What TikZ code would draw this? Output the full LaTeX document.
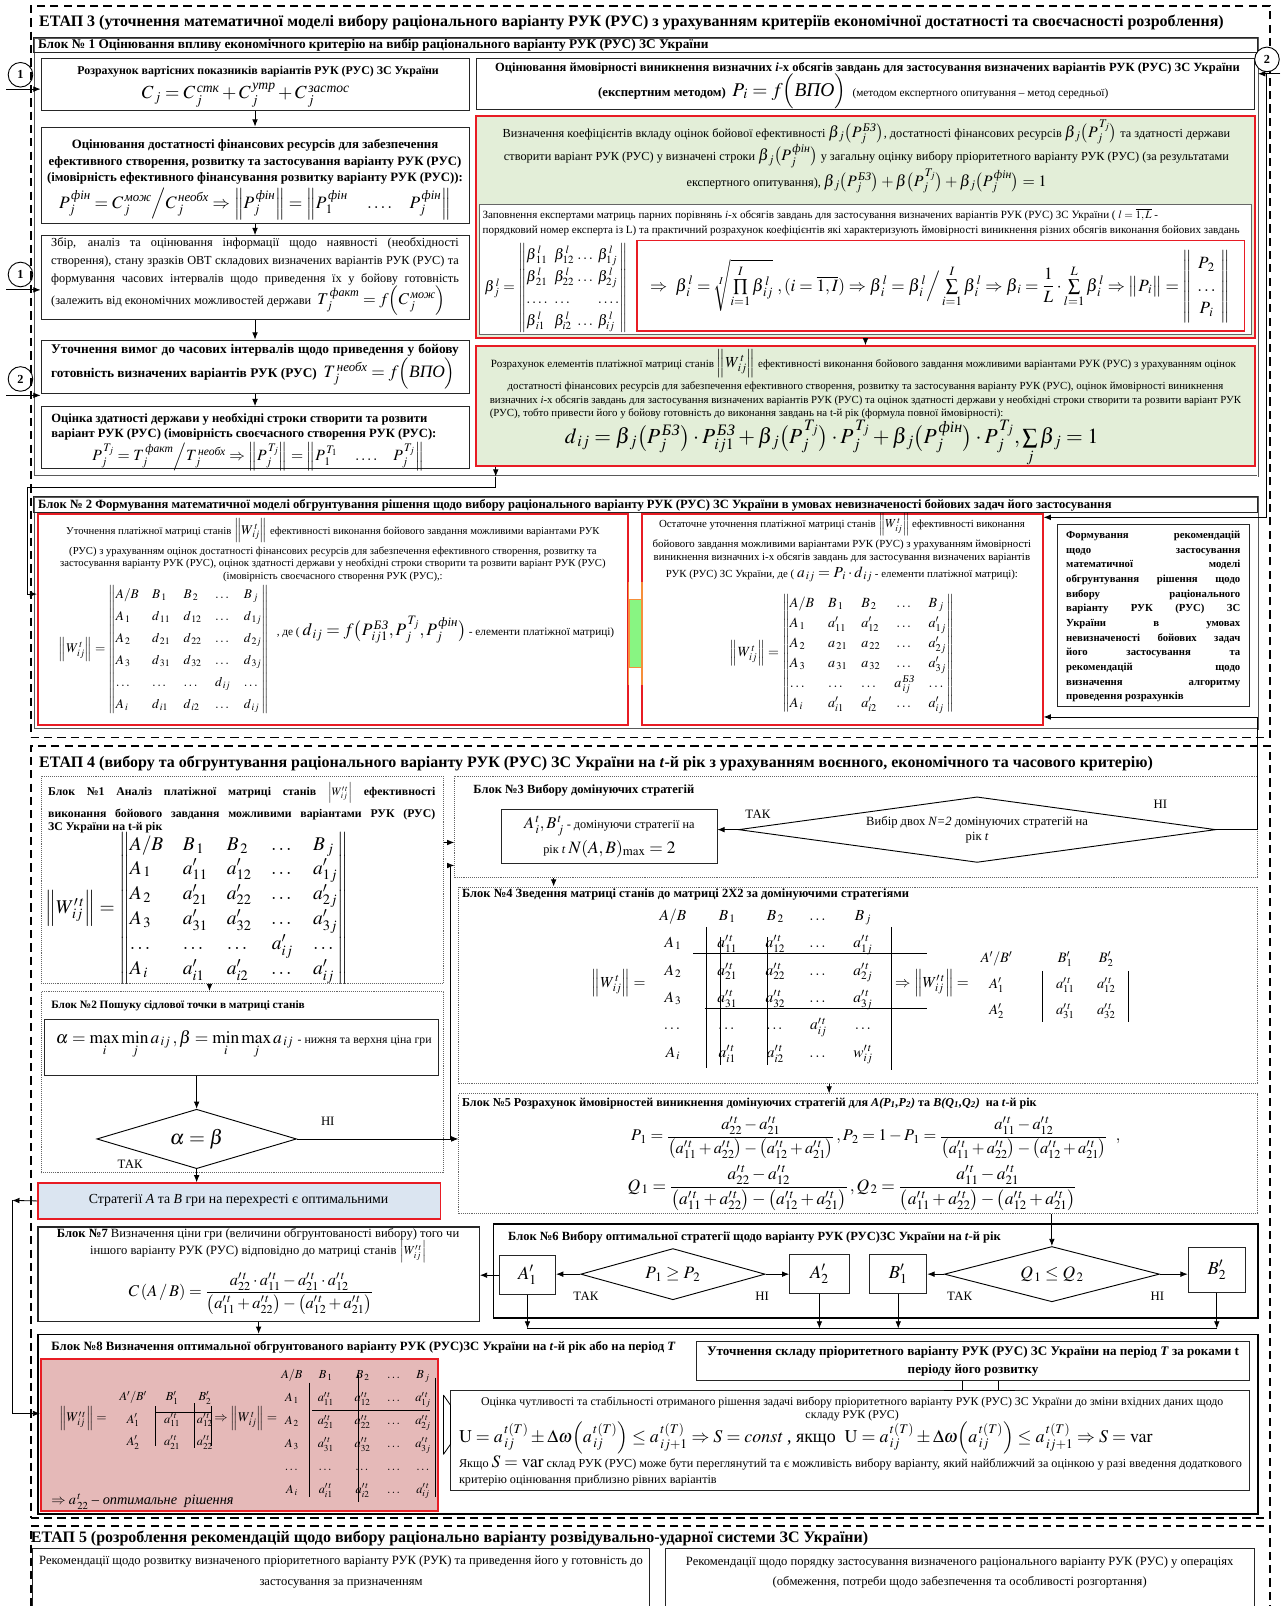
\documentclass[tikz,border=0pt]{standalone}
\usepackage{amsmath}
\usepackage{mathptmx}
\usepackage[no-math]{fontspec}
\setmainfont{Liberation Serif}
\usepackage{xcolor}
\usetikzlibrary{shapes.geometric, arrows.meta, positioning, fit}

\definecolor{grnfill}{RGB}{227,238,216}
\definecolor{redline}{RGB}{232,28,36}
\definecolor{blufill}{RGB}{219,229,241}
\definecolor{pnkfill}{RGB}{229,185,184}
\definecolor{orgline}{RGB}{246,142,58}

\newcommand{\fs}[2]{\fontsize{#1}{#2}\selectfont}
\newcommand{\jl}[2]{\makebox[#1][s]{#2}}
\newcommand{\cw}[2]{\hbox to #1{\hss$#2$\hss}}

\begin{document}
\begin{tikzpicture}[x=1pt, y=-1pt,
  stage/.style={draw, line width=1.8pt, dash pattern=on 8pt off 5pt, inner sep=0pt},
  frm/.style={draw=black!65, double, double distance=1.1pt, line width=0.6pt, inner sep=0pt},
  box/.style={draw=black!85, line width=0.9pt, inner sep=0pt},
  thk/.style={draw, line width=1.5pt, inner sep=0pt},
  redbox/.style={draw=redline, line width=1.8pt, inner sep=0pt},
  dotbox/.style={draw=black!60, densely dotted, line width=0.9pt, inner sep=0pt},
  ttl/.style={anchor=west, inner sep=0pt, font=\fs{15.6}{19}\bfseries},
  hdr/.style={anchor=west, inner sep=0pt, font=\fs{12.2}{14}\bfseries},
  txt/.style={inner sep=0pt, align=center},
  lbl/.style={inner sep=0pt, font=\fs{12.5}{14}},
  arr/.style={-{Latex[length=7pt, width=5.5pt]}, line width=0.8pt},
  circ/.style={circle, draw, line width=0.9pt, minimum size=24pt, inner sep=0pt, font=\fs{12}{14}\bfseries},
  dia/.style={diamond, draw, line width=0.9pt, inner sep=0pt, align=center}
]
\useasboundingbox (0,0) rectangle (1250,1568);
\fill[white] (0,0) rectangle (1250,1568);
\clip (0,0) rectangle (1250,1568);

% ETAP 3
\node[stage, fit={(30,6) (1240,720)}] (et3) {};
\node[ttl] (et3t) at (38,22) {ЕТАП 3 (уточнення математичної моделі вибору раціонального варіанту РУК (РУС) з урахуванням критеріїв економічної достатності та своєчасності розроблення)};

\node[frm, fit={(33,37) (1228,465)}] (b1) {};
\node[box, fit={(33,37) (1228,51)}] (b1h) {};
\node[hdr, font=\fs{13}{14}\bfseries] (b1ht) at (37,44) {Блок № 1 Оцінювання впливу економічного критерію на вибір раціонального варіанту РУК (РУС) ЗС України};

\node[box, fit={(40,57) (458,108)}] (cost) {};
\node[txt, font=\fs{11.6}{13}\bfseries] (costt) at (252,70) {Розрахунок вартісних показників варіантів РУК (РУС) ЗС України};
\node[txt, font=\fs{18}{20}] (costf) at (240,93) {$C_{\,j}=C_{\,j}^{\,\textit{стк}}+C_{\,j}^{\,\textit{утр}}+C_{\,j}^{\,\textit{застос}}$};

\node[box, fit={(40,124) (458,218)}] (fin) {};
\node[txt, font=\fs{12.5}{16.5}\bfseries] (fint) at (249,158) {Оцінювання достатності фінансових ресурсів для забезпечення\\ефективного створення, розвитку та застосування варіанту РУК (РУС)\\(імовірність ефективного фінансування розвитку варіанту РУК (РУС)):};
\node[txt, font=\fs{17}{20}] (finf) at (249,199) {$P_{\,j}^{\,\textit{фін}}=C_{\,j}^{\,\textit{мож}}\Big/C_{\,j}^{\,\textit{необх}}\Rightarrow\Big\|P_{\,j}^{\,\textit{фін}}\Big\|=\Big\|P_{\,1}^{\,\textit{фін}}\quad\dots.\quad P_{\,j}^{\,\textit{фін}}\Big\|$};

\node[box, fit={(40,230) (458,312)}] (obt) {};
\node[txt, align=left, font=\fs{12}{17.5}] (obtt) at (249,270) {\jl{398pt}{Збір, аналіз та оцінювання інформації щодо наявності (необхідності}\\\jl{398pt}{створення), стану зразків ОВТ складових визначених варіантів РУК (РУС) та}\\\jl{398pt}{формування часових інтервалів щодо приведення їх у бойову готовність}\\(залежить від економічних можливостей держави\ \ {\fs{16}{17}$T_{\,j}^{\,\textit{факт}}=f\Big(C_{\,j}^{\,\textit{мож}}\Big)$}};

\node[box, fit={(40,332) (458,384)}] (trq) {};
\node[txt, align=left, font=\fs{13}{20}\bfseries] (trqt) at (249,358) {\jl{398pt}{Уточнення вимог до часових інтервалів щодо приведення у бойову}\\готовність визначених варіантів РУК (РУС)\ \ {\fs{17}{18}\mdseries$T_{\,j}^{\,\textit{необх}}=f\Big(\textit{ВПО}\Big)$}};

\node[box, fit={(40,397) (458,457)}] (cap) {};
\node[anchor=west, inner sep=0pt, align=left, font=\fs{12.3}{15}\bfseries] (capt) at (50,417) {Оцінка здатності держави у необхідні строки створити та розвити\\варіант РУК (РУС) (імовірність своєчасного створення РУК (РУС):};
\node[txt, font=\fs{15.3}{18}] (capf) at (252,446) {$P_{\,j}^{\,T_j}=T_{\,j}^{\,\textit{факт}}\Big/T_{\,j}^{\,\textit{необх}}\Rightarrow\Big\|P_{\,j}^{\,T_j}\Big\|=\Big\|P_{\,1}^{\,T_1}\quad\dots.\quad P_{\,j}^{\,T_j}\Big\|$};

\draw[arr] (cost) -- (fin);
\draw[arr] (fin) -- (obt);
\draw[arr] (obt) -- (trq);
\draw[arr] (trq) -- (cap);

\node[box, fit={(465,57) (1225,107)}] (prob) {};
\node[txt, font=\fs{12.2}{13}\bfseries] (probt) at (847,67) {Оцінювання ймовірності виникнення визначних \textit{i}-х обсягів завдань для застосування визначених варіантів РУК (РУС) ЗС України};
\node[txt, font=\fs{12.5}{13}] (probf) at (833,89) {\textbf{(експертним методом)}\ \ {\fs{19}{20}$P_{\,i}=f\Big(\textit{ВПО}\Big)$}\ \ {\fs{11}{12}(методом експертного опитування – метод середньої)}};

\node[redbox, fill=grnfill, fit={(465,113) (1225,330)}] (coef) {};
\node[txt, font=\fs{12}{23}] (coeft) at (846,153) {Визначення коефіцієнтів вкладу оцінок бойової ефективності {\fs{15.5}{16}$\beta_{\,j}\big(P_{\,j}^{\,\textit{БЗ}}\big)$}, достатності фінансових ресурсів {\fs{15.5}{16}$\beta_{\,j}\big(P_{\,j}^{\,T_j}\big)$} та здатності держави\\створити варіант РУК (РУС) у визначені строки {\fs{15.5}{16}$\beta_{\,j}\big(P_{\,j}^{\,\textit{фін}}\big)$} у загальну оцінку вибору пріоритетного варіанту РУК (РУС) (за результатами\\експертного опитування), {\fs{15.5}{16}$\beta_{\,j}\big(P_{\,j}^{\,\textit{БЗ}}\big)+\beta\big(P_{\,j}^{\,T_j}\big)+\beta_{\,j}\big(P_{\,j}^{\,\textit{фін}}\big)=1$}};

\node[box, draw=black!60, fill=white, fit={(468,200) (1222,327)}] (pair) {};
\node[anchor=west, inner sep=0pt, align=left, font=\fs{10.8}{15}] (pairt) at (471,217) {Заповнення експертами матриць парних порівнянь \textit{i}-х обсягів завдань для застосування визначених варіантів РУК (РУС) ЗС України ( $l=\overline{1,L}$ -\\порядковий номер експерта із L) та практичний розрахунок коефіцієнтів які характеризують ймовірності виникнення різних обсягів виконання бойових завдань};
\node[txt, font=\fs{14.5}{17}] (betm) at (543,281) {\renewcommand{\arraystretch}{1.25}$\beta_{\,j}^{\,l}=\left\|\begin{array}{@{}l@{\;\;}l@{\;}c@{\;}l@{}}\beta_{\,11}^{\,l}&\beta_{12}^{\,l}&\dots&\beta_{1j}^{\,l}\\\beta_{\,21}^{\,l}&\beta_{22}^{\,l}&\dots&\beta_{2j}^{\,l}\\\dots.&\dots&&\dots.\\\beta_{\,i1}^{\,l}&\beta_{i2}^{\,l}&\dots&\beta_{ij}^{\,l}\end{array}\right\|$};
\node[redbox, line width=1.4pt, fit={(622,235) (1215,323)}] (geo) {};
\node[txt, font=\fs{16.8}{19}] (geof) at (918,280) {\renewcommand{\arraystretch}{1.15}$\Rightarrow\ \beta_{\,i}^{\,l}=\sqrt[I]{\prod\limits_{i=1}^{I}\beta_{\,ij}^{\,l}}\ ,(i=\overline{1,I})\Rightarrow\beta_{\,i}^{\,l}=\beta_{\,i}^{\,l}\Big/\sum\limits_{i=1}^{I}\beta_{\,i}^{\,l}\Rightarrow\beta_{\,i}=\dfrac{1}{L}\cdot\sum\limits_{l=1}^{L}\beta_{\,i}^{\,l}\Rightarrow\big\|P_{\,i}\big\|=\left\|\begin{array}{c}P_{\,2}\\\dots\\P_{\,i}\end{array}\right\|$};

\node[redbox, fill=grnfill, fit={(465,338) (1225,455)}] (pay) {};
\node[txt, font=\fs{10.8}{13}] (payt) at (843,355) {Розрахунок елементів платіжної матриці станів {\fs{15}{16}$\left\|W_{\,ij}^{\,t}\right\|$} ефективності виконання бойового завдання можливими варіантами РУК (РУС) з урахуванням оцінок};
\node[txt, font=\fs{10.6}{13}] (payu) at (845,384.5) {достатності фінансових ресурсів для забезпечення ефективного створення, розвитку та застосування варіанту РУК (РУС), оцінок ймовірності виникнення\\визначних \textit{i}-х обсягів завдань для застосування визначених варіантів РУК (РУС) та оцінок здатності держави у необхідні строки створити та розвити варіант РУК};
\node[anchor=west, inner sep=0pt, font=\fs{10.6}{13}] (payv) at (478,404) {(РУС), тобто привести його у бойову готовність до виконання завдань на t-й рік (формула повної ймовірності):};
\node[txt, font=\fs{21}{24}] (payf) at (812,433) {$d_{\,ij}=\beta_{\,j}\big(P_{\,j}^{\,\textit{БЗ}}\big)\cdot P_{\,ij1}^{\,\textit{БЗ}}+\beta_{\,j}\big(P_{\,j}^{\,T_j}\big)\cdot P_{\,j}^{\,T_j}+\beta_{\,j}\big(P_{\,j}^{\,\textit{фін}}\big)\cdot P_{\,j}^{\,T_j},\sum\limits_{j}\beta_{\,j}=1$};

\draw[arr] (coef) -- (pay);

\node[circ] (c1a) at (20,73) {1};
\node[circ] (c1b) at (20,268) {1};
\node[circ] (c2l) at (20,370) {2};
\node[circ, fill=white] (c2r) at (1237,58) {2};
\coordinate (in1a) at (6,87);
\coordinate (in1b) at (6,283);
\coordinate (in2l) at (6,386);
\coordinate (in2r) at (1250,72);
\coordinate (rv) at (1236,72);
\draw[arr] (in1a) -- (in1a -| cost.west);
\draw[arr] (in1b) -- (in1b -| obt.west);
\draw[arr] (in2l) -- (in2l -| trq.west);
\draw[arr] (in2r) -- (in2r -| b1.east);

% Block 2
\node[frm, fit={(33,485) (1228,712)}] (b2) {};
\node[box, fit={(33,485) (1228,500)}] (b2h) {};
\node[hdr, font=\fs{12.3}{14}\bfseries] (b2ht) at (37,493) {Блок № 2 Формування математичної моделі обгрунтування рішення щодо вибору раціонального варіанту РУК (РУС) ЗС України в умовах невизначеності бойових задач його застосування};

\node[redbox, fill=white, fit={(37,502) (613,708)}] (refw) {};
\node[txt, font=\fs{10.4}{12}] (refwt) at (325,537) {Уточнення платіжної матриці станів {\fs{13}{15}$\left\|W_{\,ij}^{\,t}\right\|$} ефективності виконання бойового завдання можливими варіантами РУК\\[3pt](РУС) з урахуванням оцінок достатності фінансових ресурсів для забезпечення ефективного створення, розвитку та\\застосування варіанту РУК (РУС), оцінок здатності держави у необхідні строки створити та розвити варіант РУК (РУС)\\(імовірність своєчасного створення РУК (РУС),:};
\node[txt, font=\fs{13}{15.5}] (refwm) at (160,634) {\renewcommand{\arraystretch}{1.38}$\left\|W_{\,ij}^{\,t}\right\|=\left\|\begin{array}{@{}l@{\quad}l@{\quad}l@{\quad}c@{\quad}l@{}}A/B&B_{\,1}&B_{\,2}&\dots&B_{\,j}\\A_{\,1}&d_{\,11}&d_{\,12}&\dots&d_{\,1j}\\A_{\,2}&d_{\,21}&d_{\,22}&\dots&d_{\,2j}\\A_{\,3}&d_{\,31}&d_{\,32}&\dots&d_{\,3j}\\\dots&\dots&\dots&d_{\,ij}&\dots\\A_{\,i}&d_{\,i1}&d_{\,i2}&\dots&d_{\,ij}\end{array}\right\|$};
\node[anchor=west, inner sep=0pt, font=\fs{11}{12}] (refwd) at (270,615) {, де ( {\fs{17}{18}$d_{\,ij}=f\big(P_{\,ij1}^{\,\textit{БЗ}},P_{\,j}^{\,T_j},P_{\,j}^{\,\textit{фін}}\big)$} - елементи платіжної матриці)};

\node[redbox, fill=white, fit={(627,502) (1018,708)}] (finw) {};
\node[txt, font=\fs{10.6}{12.5}] (finwt) at (822,535) {Остаточне уточнення платіжної матриці станів {\fs{12}{14}$\left\|W_{\,ij}^{\,t}\right\|$} ефективності виконання\\[3pt]бойового завдання можливими варіантами РУК (РУС) з урахуванням ймовірності\\виникнення визначних і-х обсягів завдань для застосування визначених варіантів\\[3pt]РУК (РУС) ЗС України, де ( {\fs{15}{16}$a_{\,ij}=P_{\,i}\cdot d_{\,ij}$} - елементи платіжної матриці):};
\node[txt, font=\fs{13.7}{16}] (finwm) at (822,638) {\renewcommand{\arraystretch}{1.2}$\left\|W_{\,ij}^{\,t}\right\|=\left\|\begin{array}{@{}l@{\quad}l@{\quad}l@{\quad}c@{\quad}l@{}}A/B&B_{\,1}&B_{\,2}&\dots&B_{\,j}\\A_{\,1}&a'_{11}&a'_{12}&\dots&a'_{1j}\\A_{\,2}&a_{\,21}&a_{\,22}&\dots&a'_{2j}\\A_{\,3}&a_{\,31}&a_{\,32}&\dots&a'_{3j}\\\dots&\dots&\dots&a_{\,ij}^{\,\textit{БЗ}}&\dots\\A_{\,i}&a'_{i1}&a'_{i2}&\dots&a'_{ij}\end{array}\right\|$};

\node[fill=green!40!grnfill, draw=orgline, line width=1.3pt, inner sep=0pt, fit={(614,585) (626,652)}] (lnk) {};
\draw[orgline, line width=1.3pt] ([yshift=16pt]lnk.north west) -- ([yshift=-16pt]lnk.south west);
\draw[orgline, line width=1.3pt] ([yshift=16pt]lnk.north east) -- ([yshift=-16pt]lnk.south east);

\node[box, fit={(1032,512) (1220,690)}] (recm) {};
\node[txt, align=left, font=\fs{10.5}{14.3}\bfseries] (recmt) at (1126,602) {\jl{170pt}{Формування рекомендацій}\\\jl{170pt}{щодо застосування}\\\jl{170pt}{математичної моделі}\\\jl{170pt}{обгрунтування рішення щодо}\\\jl{170pt}{вибору раціонального}\\\jl{170pt}{варіанту РУК (РУС) ЗС}\\\jl{170pt}{України в умовах}\\\jl{170pt}{невизначеності бойових задач}\\\jl{170pt}{його застосування та}\\\jl{170pt}{рекомендацій щодо}\\\jl{170pt}{визначення алгоритму}\\проведення розрахунків};

\coordinate (j1) at (484,476);
\coordinate (j2) at (27,580);
\draw[arr] (pay.south -| j1) -- (b1.south -| j1);
\draw[arr] (b1.south -| j1) -- (j1) -| (j2) -- (j2 -| refw.west);
\draw[arr] (rv) |- ([yshift=-4pt]finw.north east);

% ETAP 4
\node[stage, fit={(30,728) (1240,1482)}] (et4) {};
\node[ttl] (et4t) at (38,745) {ЕТАП 4 (вибору та обгрунтування раціонального варіанту РУК (РУС) ЗС України на \textit{t}-й рік з урахуванням воєнного, економічного та часового критерію)};

\node[dotbox, fit={(40,758) (433,960)}] (s1) {};
\node[txt, align=left, font=\fs{11.5}{13}\bfseries] (s1t) at (236,789) {\jl{378pt}{Блок №1 Аналіз платіжної матриці станів {\fs{11}{13}\mdseries$\left|W'^{\,t}_{\,ij}\right|$} ефективності}\\[5pt]\jl{378pt}{виконання бойового завдання можливими варіантами РУК (РУС)}\\ЗС України на t-й рік};
\node[txt, font=\fs{19}{22.5}] (s1m) at (192,887) {\renewcommand{\arraystretch}{1.03}$\left\|W'^{\,t}_{\,ij}\right\|=\left\|\begin{array}{@{}l@{\quad}l@{\quad}l@{\quad}c@{\quad}l@{}}A/B&B_{\,1}&B_{\,2}&\dots&B_{\,j}\\A_{\,1}&a'_{11}&a'_{12}&\dots&a'_{1j}\\A_{\,2}&a'_{21}&a'_{22}&\dots&a'_{2j}\\A_{\,3}&a'_{31}&a'_{32}&\dots&a'_{3j}\\\dots&\dots&\dots&a'_{ij}&\dots\\A_{\,i}&a'_{i1}&a'_{i2}&\dots&a'_{ij}\end{array}\right\|$};

\node[dotbox, fit={(444,758) (1228,857)}] (s3) {};
\node[hdr] (s3t) at (462,772) {Блок №3 Вибору домінуючих стратегій};
\node[box, fit={(490,790) (700,843)}] (dom) {};
\node[txt, font=\fs{12}{24}] (domt) at (595,817) {{\fs{16}{16}$A_{\,i}^{\,t},B_{\,j}^{\,t}$} - домінуючи стратегії на\\рік \textit{t} {\fs{17}{18}$N(A,B)_{\max}=2$}};
\node[dia, aspect=7.5, minimum width=466pt, minimum height=64pt, font=\fs{12.3}{15}] (dia3) at (954,810) {Вибір двох \textit{N=2} домінуючих стратегій на\\рік \textit{t}};
\node[lbl] (tak3) at (740,795) {ТАК};
\node[lbl] (ni3) at (1133,785) {НІ};
\draw[arr] (dia3.west) -- (dia3.west -| dom.east);
\coordinate (nil) at (1228,700);
\draw[arr] (dia3.east) -| (nil) -- (nil -| finw.east);
\draw[arr] ([yshift=-65pt]s1.north east) -- ([yshift=-65pt]s1.north east -| s3.west);

\node[dotbox, fit={(448,866) (1228,1058)}] (s4) {};
\node[hdr] (s4t) at (451,873) {Блок №4 Зведення матриці станів до матриці 2Х2 за домінуючими стратегіями};
\draw[arr] ([xshift=97pt]s3.south west) -- ([xshift=97pt]s3.south west |- s4.north);
\node[inner sep=0pt, font=\fs{15}{18}] (w4l) at (604,960) {$\left\|W^{\,t}_{\,ij}\right\|=$};
\node[inner sep=0pt, font=\fs{15}{18}] (w4m) at (747.5,960) {\renewcommand{\arraystretch}{1.49}$\begin{array}{@{}c@{}c@{}c@{}c@{}c@{}}\cw{54pt}{A/B}&\cw{52pt}{B_{\,1}}&\cw{42pt}{B_{\,2}}&\cw{42pt}{\dots}&\cw{45pt}{B_{\,j}}\\A_{\,1}&a'^{\,t}_{11}&a'^{\,t}_{12}&\dots&a'^{\,t}_{1j}\\A_{\,2}&a'^{\,t}_{21}&a'^{\,t}_{22}&\dots&a'^{\,t}_{2j}\\A_{\,3}&a'^{\,t}_{31}&a'^{\,t}_{32}&\dots&a'^{\,t}_{3j}\\\dots&\dots&\dots&a'^{\,t}_{ij}&\dots\\A_{\,i}&a'^{\,t}_{i1}&a'^{\,t}_{i2}&\dots&w'^{\,t}_{ij}\end{array}$};
\draw[line width=0.8pt] (690,905) -- (690,1043);
\draw[line width=0.8pt] (703,915) -- (703,1040);
\draw[line width=0.8pt] (749,915) -- (749,1040);
\draw[line width=0.8pt] (870,905) -- (870,1045);
\draw[line width=0.8pt] (677,931) -- (905,931);
\draw[line width=0.8pt] (688,985) -- (905,985);
\node[inner sep=0pt, font=\fs{15}{18}] (w4r) at (910,960) {$\Rightarrow\left\|W'^{\,t}_{\,ij}\right\|=$};
\node[inner sep=0pt, font=\fs{14}{17}] (w4n) at (1024,960) {\renewcommand{\arraystretch}{1.5}$\begin{array}{@{}c@{\hspace{22pt}}c@{}c@{}}\cw{50pt}{A'/B'}&\cw{40pt}{B'_{1}}&\cw{40pt}{B'_{2}}\\A'_{1}&a'^{\,t}_{11}&a'^{\,t}_{12}\\A'_{2}&a'^{\,t}_{31}&a'^{\,t}_{32}\end{array}$};
\draw[line width=0.8pt] (1018,948) -- (1018,998);
\draw[line width=0.8pt] (1102,948) -- (1102,998);

\node[dotbox, fit={(448,1068) (1228,1185)}] (s5) {};
\node[hdr, font=\fs{11.8}{12}\bfseries] (s5t) at (451,1077) {Блок №5 Розрахунок ймовірностей виникнення домінуючих стратегій для \textit{A(P\textsubscript{1},P\textsubscript{2})} та \textit{B(Q\textsubscript{1},Q\textsubscript{2})}\ \ на \textit{t}-й рік};
\draw[arr] ([xshift=362pt]s4.south west) -- ([xshift=362pt]s4.south west |- s5.north);
\node[txt, font=\fs{16}{18}] (p12) at (855,1111) {$P_{\,1}=\dfrac{a'^{\,t}_{22}-a'^{\,t}_{21}}{\big(a'^{\,t}_{11}+a'^{\,t}_{22}\big)-\big(a'^{\,t}_{12}+a'^{\,t}_{21}\big)}\,,P_{\,2}=1-P_{\,1}=\dfrac{a'^{\,t}_{11}-a'^{\,t}_{12}}{\big(a'^{\,t}_{11}+a'^{\,t}_{22}\big)-\big(a'^{\,t}_{12}+a'^{\,t}_{21}\big)}\ \ ,$};
\node[txt, font=\fs{17}{19}] (q12) at (832,1160) {$Q_{\,1}=\dfrac{a'^{\,t}_{22}-a'^{\,t}_{12}}{\big(a'^{\,t}_{11}+a'^{\,t}_{22}\big)-\big(a'^{\,t}_{12}+a'^{\,t}_{21}\big)}\,,Q_{\,2}=\dfrac{a'^{\,t}_{11}-a'^{\,t}_{21}}{\big(a'^{\,t}_{11}+a'^{\,t}_{22}\big)-\big(a'^{\,t}_{12}+a'^{\,t}_{21}\big)}$};

\node[dotbox, fit={(40,968) (433,1145)}] (s2) {};
\draw[arr] ([xshift=165pt]s1.south west) -- ([xshift=165pt]s1.south west |- s2.north);
\node[hdr, font=\fs{11}{12}\bfseries] (s2t) at (50,982) {Блок №2 Пошуку сідлової точки в матриці станів};
\node[box, fit={(43,995) (428,1050)}] (sad) {};
\node[txt, font=\fs{17}{19}] (sadt) at (238,1020) {$\alpha=\max\limits_{i}\min\limits_{j}a_{\,ij}\,,\beta=\min\limits_{i}\max\limits_{j}a_{\,ij}$\ {\fs{11.5}{12}- нижня та верхня ціна гри}};
\node[dia, aspect=3, minimum width=195pt, minimum height=58pt, font=\fs{20}{24}] (abeq) at (192,1112) {$\alpha=\beta$};
\draw[arr] (sad.south -| abeq) -- (abeq.north);
\node[lbl] (tak2) at (127,1137) {ТАК};
\node[lbl] (ni2) at (320,1095) {НІ};
\coordinate (vl) at (440,845);
\draw[arr] (abeq.east) -- (abeq.east -| s5.west);
\draw[arr] (abeq.east -| vl) -- (vl) -- (vl -| s3.west);

\node[redbox, line width=1.3pt, fill=blufill, fit={(37,1155) (430,1190)}] (strat) {};
\node[txt, font=\fs{13.5}{15}] (stratt) at (233,1172) {Стратегії \textit{A} та \textit{B} гри на перехресті є оптимальними};
\draw[arr] (abeq.south) -- (abeq.south |- strat.north);

\node[box, line width=1.2pt, fit={(37,1198) (468,1290)}] (s7) {};
\node[txt, font=\fs{12.3}{15}] (s7t) at (252,1216) {\textbf{Блок №7} Визначення ціни гри (величини обгрунтованості вибору) того чи\\іншого варіанту РУК (РУС) відповідно до матриці станів {\fs{12}{14}$\left|W'^{\,t}_{\,ij}\right|$}};
\node[txt, font=\fs{16}{18}] (s7f) at (245,1263) {$C\,(A\,/\,B)=\dfrac{a'^{\,t}_{22}\cdot a'^{\,t}_{11}-a'^{\,t}_{21}\cdot a'^{\,t}_{12}}{\big(a'^{\,t}_{11}+a'^{\,t}_{22}\big)-\big(a'^{\,t}_{12}+a'^{\,t}_{21}\big)}$};

\node[thk, fit={(482,1195) (1228,1287)}] (s6) {};
\node[hdr] (s6t) at (496,1208) {Блок №6 Вибору оптимальної стратегії щодо варіанту РУК (РУС)ЗС України на \textit{t}-й рік};
\node[box, minimum width=55pt, minimum height=38pt, font=\fs{18}{20}] (a1) at (515,1245) {$A'_{1}$};
\node[dia, aspect=3.6, minimum width=180pt, minimum height=50pt, font=\fs{17}{20}] (d1) at (657,1244) {$P_{\,1}\geq P_{\,2}$};
\node[box, minimum width=58pt, minimum height=38pt, font=\fs{18}{20}] (a2) at (800,1244) {$A'_{2}$};
\node[box, minimum width=56pt, minimum height=38pt, font=\fs{18}{20}] (bb1) at (877,1244) {$B'_{1}$};
\node[dia, aspect=3.9, minimum width=210pt, minimum height=54pt, font=\fs{17}{20}] (d2) at (1027,1244) {$Q_{\,1}\leq Q_{\,2}$};
\node[box, minimum width=56pt, minimum height=44pt, font=\fs{18}{20}] (bb2) at (1188,1240) {$B'_{2}$};
\node[lbl] (tak6a) at (572,1266) {ТАК};
\node[lbl] (ni6a) at (744,1266) {НІ};
\node[lbl] (tak6b) at (937,1266) {ТАК};
\node[lbl] (ni6b) at (1130,1266) {НІ};
\draw[arr] (d1.west) -- (d1.west -| a1.east);
\draw[arr] (d1.east) -- (d1.east -| a2.west);
\draw[arr] (d2.west) -- (d2.west -| bb1.east);
\draw[arr] (d2.east) -- (d2.east -| bb2.west);
\draw[arr] (a1.west) -- (a1.west -| s7.east);
\draw[arr] (d2.north |- s5.south) -- (d2.north);
\coordinate (col) at (0,1297);
\draw[arr] (a1.south) -- (a1.south |- col);
\draw[arr] (a2.south) -- (a2.south |- col);
\draw[arr] (bb1.south) -- (bb1.south |- col);
\draw[arr] (bb2.south) -- (bb2.south |- col);
\draw[line width=0.8pt] (a1.south |- col) -- (bb2.south |- col);

\node[thk, fit={(37,1303) (1228,1478)}] (s8) {};
\draw[arr] (s7.south) -- (s7.south |- s8.north);
\node[hdr, font=\fs{12.4}{12}\bfseries] (s8t) at (50,1315) {Блок №8 Визначення оптимальної обгрунтованого варіанту РУК (РУС)ЗС України на \textit{t}-й рік або на період \textit{T}};
\node[redbox, fill=pnkfill, fit={(40,1327) (428,1475)}] (b8r) {};
\coordinate (lp1) at (12,1172);
\coordinate (lp2) at (12,1380);
\draw[arr] (strat.west) -- (lp1);
\draw[arr] (lp1) -- (lp2) -- (lp2 -| b8r.west);

\node[inner sep=0pt, font=\fs{13}{16}] (w8l) at (81,1385) {$\left\|W'^{\,t}_{\,ij}\right\|=$};
\node[inner sep=0pt, font=\fs{12}{14}] (w8s) at (162,1385) {\renewcommand{\arraystretch}{1.56}$\begin{array}{@{}c@{}c@{}c@{}}\cw{40pt}{A'/B'}&\cw{36pt}{B'_{1}}&\cw{28pt}{B'_{2}}\\A'_{1}&a'^{\,t}_{11}&a'^{\,t}_{12}\\A'_{2}&a'^{\,t}_{21}&a'^{\,t}_{22}\end{array}$};
\draw[line width=0.8pt] (152,1373) -- (152,1412);
\draw[line width=0.8pt] (152,1379) -- (206,1379);
\draw[line width=0.8pt] (190,1370) -- (190,1414);
\draw[line width=0.8pt] (206,1373) -- (206,1412);
\node[inner sep=0pt, font=\fs{13}{16}] (w8i) at (240,1385) {$\Rightarrow\left\|W^{\,t}_{\,ij}\right\|=$};
\node[inner sep=0pt, font=\fs{12}{14}] (w8b) at (349,1397.5) {\renewcommand{\arraystretch}{1.6}$\begin{array}{@{}c@{}c@{}c@{}c@{}c@{}}\cw{30pt}{A/B}&\cw{36pt}{B_{\,1}}&\cw{36pt}{B_{\,2}}&\cw{26pt}{\dots}&\cw{30pt}{B_{\,j}}\\A_{\,1}&a'^{\,t}_{11}&a'^{\,t}_{12}&\dots&a'^{\,t}_{1j}\\A_{\,2}&a'^{\,t}_{21}&a'^{\,t}_{22}&\dots&a'^{\,t}_{2j}\\A_{\,3}&a'^{\,t}_{31}&a'^{\,t}_{32}&\dots&a'^{\,t}_{3j}\\\dots&\dots&\dots&\dots&\dots\\A_{\,i}&a'^{\,t}_{i1}&a'^{\,t}_{i2}&\dots&a'^{\,t}_{ij}\end{array}$};
\draw[line width=0.8pt] (302,1350) -- (302,1462);
\draw[line width=0.8pt] (350,1342) -- (350,1466);
\draw[line width=0.8pt] (425,1345) -- (425,1462);
\draw[line width=0.8pt] (305,1377) -- (420,1377);
\node[anchor=west, inner sep=0pt, font=\fs{14}{16}] (opt) at (50,1466) {$\Rightarrow a^{\,t}_{\,22}$ -- \textit{оптимальне\ \ рішення}};

\node[box, line width=1.2pt, fit={(680,1310) (1220,1348)}] (utc) {};
\node[txt, font=\fs{12.8}{18}\bfseries] (utct) at (950,1329) {Уточнення складу пріоритетного варіанту РУК (РУС) ЗС України на період \textit{T} за роками t\\періоду його розвитку};
\node[box, fit={(440,1358) (1220,1455)}] (sens) {};
\draw[line width=0.8pt] ([xshift=-10pt]utc.south) -- ([xshift=-10pt]utc.south |- sens.north);
\draw[line width=0.8pt] ([xshift=25pt]utc.south) -- ([xshift=25pt]utc.south |- sens.north);
\draw[line width=0.8pt] ([xshift=-28pt]sens.north -| utc.south) -- ([xshift=41pt]sens.north -| utc.south);
\node[txt, font=\fs{11.6}{13}] (senst) at (832,1376) {Оцінка чутливості та стабільності отриманого рішення задачі вибору пріоритетного варіанту РУК (РУС) ЗС України до зміни вхідних даних щодо\\складу РУК (РУС)};
\node[anchor=west, inner sep=0pt, font=\fs{17.5}{19}] (sensf) at (448,1404) {$\mathrm{U}=a_{\,ij}^{\,t(T)}\pm\Delta\omega\Big(a_{\,ij}^{\,t(T)}\Big)\leq a_{\,ij+1}^{\,t(T)}\Rightarrow S=\mathit{const}$ , якщо\ \ $\mathrm{U}=a_{\,ij}^{\,t(T)}\pm\Delta\omega\Big(a_{\,ij}^{\,t(T)}\Big)\leq a_{\,ij+1}^{\,t(T)}\Rightarrow S=\mathrm{var}$};
\node[anchor=west, inner sep=0pt, align=left, font=\fs{11.9}{16}] (sensv) at (448,1436) {Якщо {\fs{17}{16}$S=\mathrm{var}$} склад РУК (РУС) може бути переглянутий та є можливість вибору варіанту, який найближчий за оцінкою у разі введення додаткового\\критерію оцінювання приблизно рівних варіантів};
\draw[line width=0.8pt] (b8r.east |- 0,1362) ++(4,0) -- ++(0,58);
\draw[line width=0.8pt] (b8r.east |- 0,1362) ++(4,0) -- ++(7,10) -- ++(0,38) -- ++(-7,10);

% ETAP 5
\node[stage, fit={(30,1490) (1240,1600)}] (et5) {};
\node[ttl] (et5t) at (30,1502) {ЕТАП 5 (розроблення рекомендацій щодо вибору раціонально варіанту розвідувально-ударної системи ЗС України)};
\node[box, fit={(32,1512) (634,1590)}] (rec1) {};
\node[txt, font=\fs{12.3}{20}] (rec1t) at (333,1535) {Рекомендації щодо розвитку визначеного пріоритетного варіанту РУК (РУК) та приведення його у готовність до\\застосування за призначенням};
\node[box, fit={(650,1512) (1225,1590)}] (rec2) {};
\node[txt, font=\fs{12.3}{20}] (rec2t) at (937,1535) {Рекомендації щодо порядку застосування визначеного раціонального варіанту РУК (РУС) у операціях\\(обмеження, потреби щодо забезпечення та особливості розгортання)};
\end{tikzpicture}
\end{document}
